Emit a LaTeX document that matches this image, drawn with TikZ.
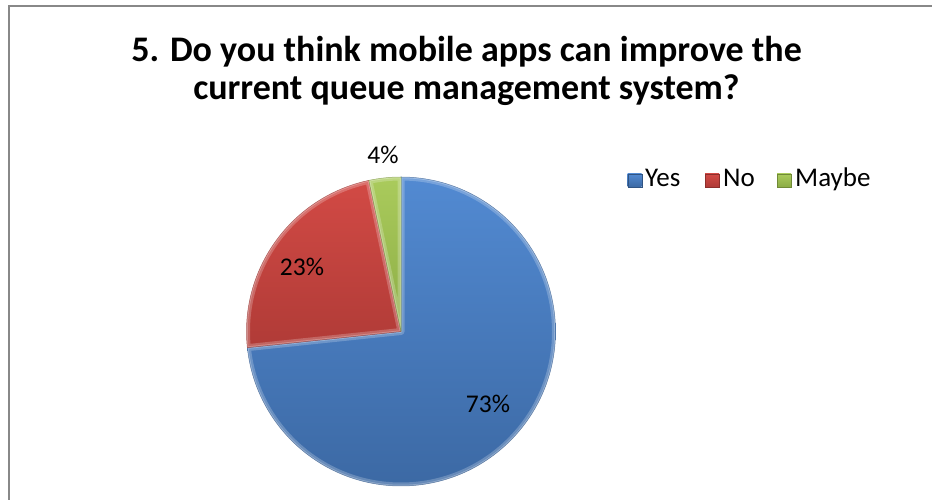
\documentclass[tikz,border=0pt]{standalone}
\usepackage{fontspec}
\setmainfont{Carlito}
\definecolor{yestop}{HTML}{528AD2}
\definecolor{yesbot}{HTML}{3C69A4}
\definecolor{notop}{HTML}{D24A45}
\definecolor{nobot}{HTML}{B03B37}
\definecolor{maybetop}{HTML}{AACB5C}
\definecolor{maybebot}{HTML}{8CAC45}
\definecolor{framegray}{HTML}{888888}
\begin{document}
\begin{tikzpicture}[x=1pt,y=1pt,
  titletext/.style={font=\fontsize{36}{38}\selectfont\bfseries, anchor=base, inner sep=0pt},
  pcttext/.style={font=\fontsize{25.5}{28}\selectfont, anchor=base, inner sep=0pt},
  legtext/.style={font=\fontsize{27}{30}\selectfont, anchor=base west, inner sep=0pt},
  legbox/.style={minimum width=14pt, minimum height=13pt, inner sep=0pt, anchor=south west}]
\useasboundingbox (0,0) rectangle (932,500);
\fill[white] (0,0) rectangle (932,500);
\begin{scope}
  \clip (0,0) rectangle (932,500);
  \draw[framegray, line width=2pt] (8.5,-10) |- (950,493.5);
\end{scope}

% title
\node[titletext] (title1) at (466.5,438) {5. Do you think mobile apps can improve the};
\node[titletext] (title2) at (466.5,400) {current queue management system?};

% pie: centre and radius
\coordinate (c) at (401,168.5);
\def\R{154.5}
\newcommand{\slice}[2]{(c) -- ([shift={(#1:\R)}]c) arc[start angle=#1, end angle=#2, radius=\R] -- cycle}
\newcommand{\drawslice}[4]{%
  \shade[top color=#3, bottom color=#4] \slice{#1}{#2};
  \begin{scope}
    \clip \slice{#1}{#2};
    \draw[white, opacity=0.22, line width=7pt, line join=round] \slice{#1}{#2};
    \draw[white, opacity=0.25, line width=2.5pt, line join=round] \slice{#1}{#2};
  \end{scope}
  \draw[#4!80!black, opacity=0.6, line width=0.5pt, line join=round] \slice{#1}{#2};
}
\drawslice{90}{-174}{yestop}{yesbot}
\drawslice{186}{102}{notop}{nobot}
\drawslice{102}{90}{maybetop}{maybebot}

% percentage labels
\node[pcttext] (pyes) at (488,87) {73\%};
\node[pcttext] (pno) at (302,224) {23\%};
\node[pcttext] (pmaybe) at (383,336) {4\%};

% legend
\node[legbox, top color=yestop, bottom color=yesbot, draw=yesbot!80!black, line width=0.4pt] (kyes) at (627.5,313) {};
\node[legtext] (lyes) at (645,313) {Yes};
\node[legbox, top color=notop, bottom color=nobot, draw=nobot!80!black, line width=0.4pt] (kno) at (705,313) {};
\node[legtext] (lno) at (723,313) {No};
\node[legbox, top color=maybetop, bottom color=maybebot, draw=maybebot!80!black, line width=0.4pt] (kmaybe) at (777,313) {};
\node[legtext] (lmaybe) at (795,313) {Maybe};
\end{tikzpicture}
\end{document}
